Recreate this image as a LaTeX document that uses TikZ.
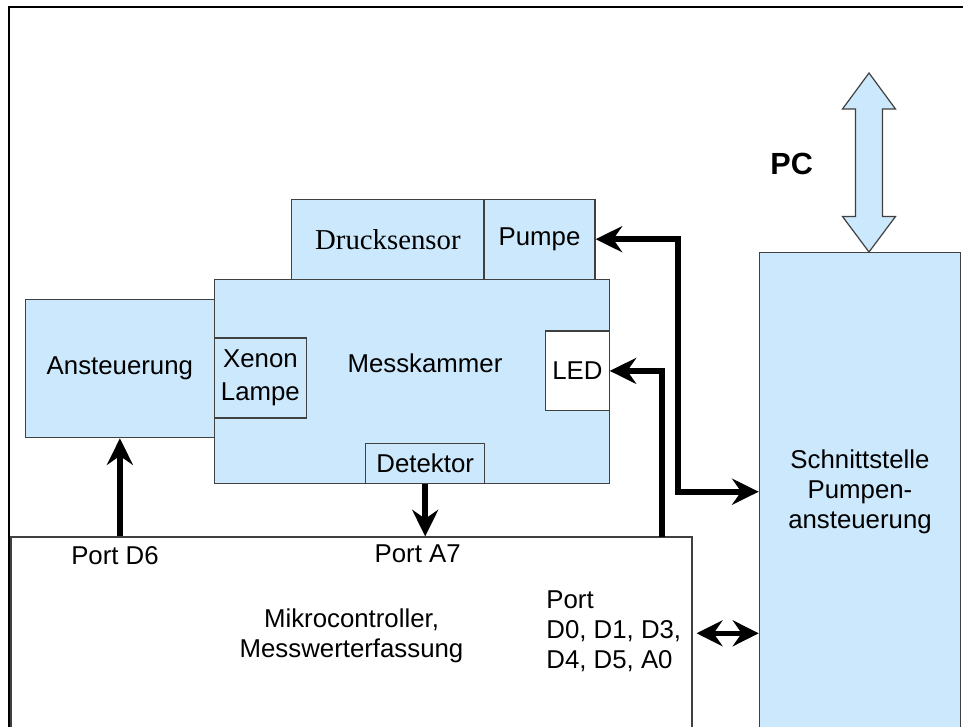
\documentclass[tikz,border=0pt]{standalone}
\usepackage{fontspec}
\setmainfont{Liberation Sans}
\newfontfamily\druckfont{Liberation Serif}
\usetikzlibrary{arrows.meta, calc}
\definecolor{cBox}{RGB}{204,232,252}
\definecolor{cEdge}{RGB}{64,64,64}
\tikzset{
	blk/.style   ={rectangle, draw=cEdge, line width=0.6pt, fill=cBox, align=center, inner sep=0pt, font=\fontsize{12.9}{15}\selectfont},
	wblk/.style  ={blk, fill=white},
	lbl/.style   ={inner sep=0pt, align=center, font=\fontsize{12.9}{15}\selectfont},
	tip/.style   ={Stealth[length=13.3pt, width=13pt, inset=4.5pt]},
	sig/.style   ={-{Stealth[length=13.3pt, width=13pt, inset=4.5pt]}, line width=2.9pt},
	sigboth/.style={{Stealth[length=13.3pt, width=13pt, inset=4.5pt]}-{Stealth[length=13.3pt, width=13pt, inset=4.5pt]}, line width=2.9pt},
	bus/.style   ={{Stealth[length=13pt, width=13pt, inset=4.5pt]}-{Stealth[length=13pt, width=13pt, inset=4.5pt]}, line width=2.5pt},
	pcpfeil/.style={draw=cEdge, line width=0.6pt, fill=cBox},
}

\begin{document}
\begin{tikzpicture}[x=0.5pt, y=-0.5pt]
	\useasboundingbox (0,0) rectangle (963,727);
	\clip (0,0) rectangle (963,727);
	\draw[line width=1pt] (9,7) rectangle (1000,800);
	% Messkammer mit Anbauten
	\node[blk, minimum width=197.2pt, minimum height=102.3pt] (mess) at (411.9,381.4) {};
	\node[lbl] (messtxt) at (425,363) {Messkammer};
	\node[blk, minimum width=96.2pt, minimum height=39.9pt, font=\druckfont\fontsize{14.4}{16}\selectfont] (druck) at (387.9,239.2) {Drucksensor};
	\node[blk, minimum width=55.5pt, minimum height=39.9pt] (pumpe) at (539.5,239.2) {Pumpe};
	\node[blk, minimum width=45.7pt, minimum height=40pt, font=\fontsize{12.9}{16.5}\selectfont] (xenon) at (260.4,378) {Xenon\\Lampe};
	\node[wblk, minimum width=31.7pt, minimum height=39.9pt] (led) at (577.4,370.9) {LED};
	\node[blk, minimum width=59.5pt, minimum height=20.3pt] (detektor) at (425.2,463.4) {Detektor};
	\node[blk, minimum width=94.8pt, minimum height=69.3pt] (anst) at (119.9,368.4) {Ansteuerung};
	% Mikrocontroller und Schnittstelle
	\node[wblk, minimum width=340.5pt, minimum height=98.4pt] (mikro) at (351.5,635.4) {Mikrocontroller,\\Messwerterfassung};
	\node[blk, minimum width=100.7pt, minimum height=239.4pt] (schnitt) at (860,491.7) {Schnittstelle\\Pumpen-\\ansteuerung};
	\node[lbl] (pd6) at (115,556) {Port D6};
	\node[lbl] (pa7) at (417.7,554) {Port A7};
	\node[lbl, align=left, anchor=west] (pdx) at (546,631) {Port\\D0, D1, D3,\\D4, D5, A0};
	% PC
	\draw[pcpfeil] (869,73) -- (895.5,109) -- (882.5,109) -- (882.5,216.5) -- (895.5,216.5) -- (869,252)
		-- (842.5,216.5) -- (855.5,216.5) -- (855.5,109) -- (842.5,109) -- cycle;
	\node[lbl, font=\bfseries\fontsize{15.3}{18}\selectfont] (pc) at (791.7,164.3) {PC};
	% Signale
	\draw[sig] (anst.south |- mikro.north) -- (anst.south);
	\draw[sig] (detektor.south) -- (detektor.south |- mikro.north);
	\coordinate (ledtap) at (662,537);
	\draw[sig] (ledtap) |- (led.east);
	\draw[sigboth] (pumpe.east) -- ++(82,0) |- (schnitt.west);
	\coordinate (busy) at (0,633.3);
	\draw[bus, shorten <=2pt] (mikro.east |- busy) -- (schnitt.west |- busy);
\end{tikzpicture}
\end{document}
